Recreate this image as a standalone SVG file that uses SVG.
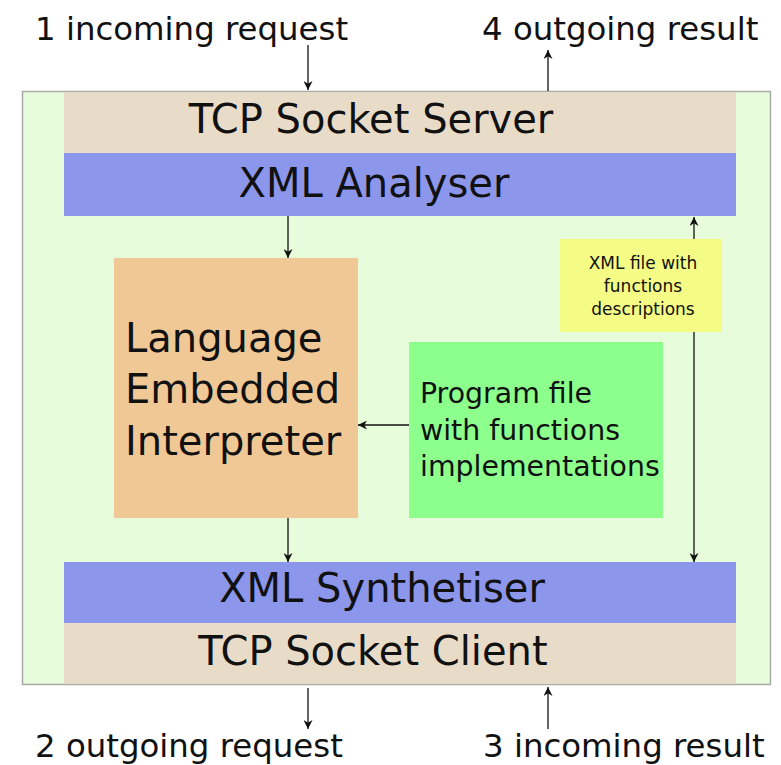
<svg xmlns="http://www.w3.org/2000/svg" width="781" height="765" viewBox="0 0 781 765">
<style>
text{font-family:"DejaVu Sans",sans-serif;fill:#111}
.big{font-size:40px}
.lbl{font-size:32.4px}
.conn{stroke:#111;stroke-width:1.3;fill:none;marker-end:url(#ah)}
</style>
<defs>
<marker id="ah" viewBox="0 0 10 10" refX="10" refY="5" markerWidth="9" markerHeight="9" markerUnits="userSpaceOnUse" orient="auto-start-reverse">
<path d="M0,0 L10,5 L0,10 L3,5 Z" fill="#111"/>
</marker>
</defs>
<rect width="781" height="765" fill="#fff"/>
<g id="frame"><rect x="22.5" y="91.5" width="748" height="593" fill="#e6fcda" stroke="#aaa" stroke-width="1.5"/></g>
<g id="tcp-server"><rect x="64" y="92" width="672" height="61" fill="#e8dcc8"/><text class="big" x="371" y="133" text-anchor="middle">TCP Socket Server</text></g>
<g id="xml-analyser"><rect x="64" y="153" width="672" height="63" fill="#8c96eb"/><text class="big" x="374" y="197" text-anchor="middle">XML Analyser</text></g>
<g id="xml-synth"><rect x="64" y="562" width="672" height="61" fill="#8c96eb"/><text class="big" x="382" y="602" text-anchor="middle">XML Synthetiser</text></g>
<g id="tcp-client"><rect x="64" y="623" width="672" height="61" fill="#e8dcc8"/><text class="big" x="373" y="665" text-anchor="middle">TCP Socket Client</text></g>
<g id="interpreter"><rect x="114" y="258" width="244" height="260" fill="#f0c896"/><text class="big" x="125" y="352">Language</text><text class="big" x="125" y="403">Embedded</text><text class="big" x="125" y="455">Interpreter</text></g>
<g id="program-file"><rect x="409" y="342" width="254" height="176" fill="#8cff8c"/><text x="420" y="403" font-size="28.4">Program file</text><text x="420" y="440" font-size="28.4">with functions</text><text x="420" y="476" font-size="28.4">implementations</text></g>
<g id="connectors">
<line class="conn" x1="288" y1="216" x2="288" y2="258"/>
<line class="conn" x1="288" y1="518" x2="288" y2="562"/>
<line class="conn" x1="409" y1="425" x2="358" y2="425"/>
<line class="conn" x1="694" y1="389" x2="694" y2="217"/>
<line class="conn" x1="694" y1="389" x2="694" y2="562"/>
<line class="conn" x1="308" y1="45" x2="308" y2="90"/>
<line class="conn" x1="548" y1="91" x2="548" y2="50"/>
<line class="conn" x1="308" y1="688" x2="308" y2="729"/>
<line class="conn" x1="548" y1="729" x2="548" y2="687"/>
</g>
<g id="xml-file"><rect x="560" y="239" width="162" height="93" fill="#f5fc85"/><text x="643" y="269" font-size="17" text-anchor="middle">XML file with</text><text x="643" y="292" font-size="17" text-anchor="middle">functions</text><text x="643" y="315" font-size="17" text-anchor="middle">descriptions</text></g>
<g id="labels">
<text class="lbl" x="35" y="40">1 incoming request</text>
<text class="lbl" x="482" y="40">4 outgoing result</text>
<text class="lbl" x="35" y="757">2 outgoing request</text>
<text class="lbl" x="483" y="757">3 incoming result</text>
</g>
</svg>
